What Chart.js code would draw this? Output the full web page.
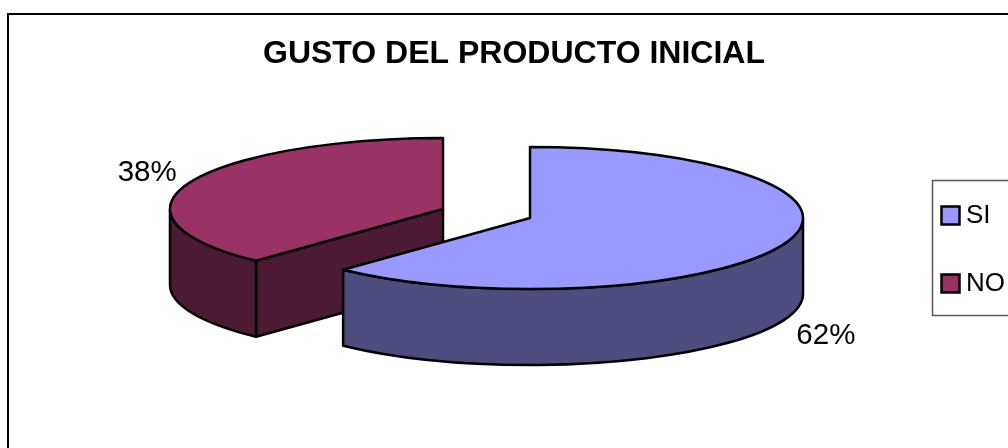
<!DOCTYPE html>
<html>
<head>
<meta charset="utf-8">
<title>Gusto del producto inicial</title>
<script src="https://cdn.jsdelivr.net/npm/chart.js@4"></script>
<style>
  html, body { margin: 0; padding: 0; background: #fff; overflow: hidden; }
  canvas { display: block; }
</style>
</head>
<body>
<canvas id="myChart" width="1008" height="448"></canvas>
<script>
const categories = ['SI', 'NO'];
const values = [62, 38];
const topColors = ['#9999FF', '#993366'];
const sideColors = ['#4D4D80', '#4D1A33'];

const TILT = 0.26;    // ellipse height / width of the pie top
const DEPTH = 76;     // wall height in px
const EXPLODE = 46.8; // how far each slice is pulled out
const FONT = '"Liberation Sans", Arial, sans-serif';

// arc that paints itself as a thick tilted slice
class Arc3d extends Chart.ArcElement {
    center() {
        const mid = (this.startAngle + this.endAngle) / 2;
        const off = this.options.offset || 0;
        return {
            x: this.x + Math.cos(mid) * off,
            y: this.y + Math.sin(mid) * off * TILT
        };
    }

    draw(ctx) {
        const { x, y } = this.center();
        const rx = this.outerRadius;
        const ry = rx * TILT;
        const start = this.startAngle;
        const end = this.endAngle;

        ctx.save();
        ctx.lineWidth = this.options.borderWidth;
        ctx.strokeStyle = this.options.borderColor;
        ctx.lineJoin = 'round';

        // flat side walls that face the viewer
        ctx.fillStyle = this.$side;
        [[start, start - Math.PI / 2], [end, end + Math.PI / 2]].forEach(function (e) {
            if (Math.sin(e[1]) > 0.001) {
                const ex = x + Math.cos(e[0]) * rx;
                const ey = y + Math.sin(e[0]) * ry;
                ctx.beginPath();
                ctx.moveTo(x, y);
                ctx.lineTo(ex, ey);
                ctx.lineTo(ex, ey + DEPTH);
                ctx.lineTo(x, y + DEPTH);
                ctx.closePath();
                ctx.fill();
                ctx.stroke();
            }
        });

        // curved wall, only the front half of the ellipse shows
        for (let k = 0; k <= 2; k += 2) {
            const a = Math.max(start, k * Math.PI);
            const b = Math.min(end, (k + 1) * Math.PI);
            if (b > a) {
                ctx.beginPath();
                ctx.ellipse(x, y, rx, ry, 0, a, b);
                ctx.lineTo(x + Math.cos(b) * rx, y + Math.sin(b) * ry + DEPTH);
                ctx.ellipse(x, y + DEPTH, rx, ry, 0, b, a, true);
                ctx.closePath();
                ctx.fill();
                ctx.stroke();
            }
        }

        // top face
        ctx.fillStyle = this.options.backgroundColor;
        ctx.beginPath();
        ctx.moveTo(x, y);
        ctx.ellipse(x, y, rx, ry, 0, start, end);
        ctx.closePath();
        ctx.fill();
        ctx.stroke();
        ctx.restore();
    }
}
Arc3d.id = 'arc3d';
Arc3d.defaults = Chart.ArcElement.defaults;

class Pie3dController extends Chart.PieController {
    // back slices first so the front ones cover them
    draw() {
        const ctx = this.chart.ctx;
        const arcs = this.getMeta().data;
        for (let i = arcs.length - 1; i >= 0; i--) {
            arcs[i].$side = sideColors[i];
            arcs[i].draw(ctx);
        }
    }
}
Pie3dController.id = 'pie3d';
Pie3dController.defaults = Object.assign({}, Chart.PieController.defaults, { dataElementType: 'arc3d' });
Pie3dController.overrides = Chart.DoughnutController.overrides;

Chart.register(Arc3d, Pie3dController);

const framePlugin = {
    id: 'frame',
    // fixed spots for the pie, the title and the legend
    afterLayout(chart) {
        chart.chartArea = { left: 41, right: 932, top: 72, bottom: 355, width: 891, height: 283 };
        chart.titleBlock.left = 0;
        chart.titleBlock.right = 1028;
        chart.titleBlock.width = 1028;
        const pad = chart.legend.options.labels.padding;
        chart.legend.left = 948 - pad;
        chart.legend.right = chart.legend.left + chart.legend.width;
        chart.legend.top = 202.5 - pad;
    },
    beforeDraw(chart) {
        const ctx = chart.ctx;
        ctx.save();
        ctx.fillStyle = '#fff';
        ctx.fillRect(0, 0, chart.width, chart.height);
        ctx.strokeStyle = '#000';
        ctx.lineWidth = 2;
        ctx.strokeRect(8, 14, 1100, 1000);
        ctx.strokeStyle = '#555';
        ctx.lineWidth = 1.5;
        ctx.strokeRect(932.5, 180.5, 200, 135);
        ctx.restore();
    },
    // percentage labels just outside each slice
    afterDatasetsDraw(chart) {
        const ctx = chart.ctx;
        const arcs = chart.getDatasetMeta(0).data;
        const total = values.reduce(function (a, b) { return a + b; }, 0);
        ctx.save();
        ctx.font = '29.5px ' + FONT;
        ctx.fillStyle = '#000';
        ctx.textAlign = 'center';
        ctx.textBaseline = 'middle';
        arcs.forEach(function (arc, i) {
            const mid = (arc.startAngle + arc.endAngle) / 2;
            const c = arc.center();
            const cos = Math.cos(mid);
            const sin = Math.sin(mid);
            const lx = c.x + cos * arc.outerRadius + Math.sign(cos) * 42;
            const ly = c.y + sin * arc.outerRadius * TILT + Math.sign(sin) * 13 + 2.5 + (sin > 0 ? DEPTH : 0);
            ctx.fillText(Math.round(values[i] / total * 100) + '%', lx, ly);
        });
        ctx.restore();
    }
};

const ctx = document.getElementById('myChart');
new Chart(ctx, {
    type: 'pie3d',
    data: {
        labels: categories,
        datasets: [{
            data: values,
            backgroundColor: topColors,
            borderColor: '#000',
            borderWidth: 2.5,
            offset: EXPLODE
        }]
    },
    plugins: [framePlugin],
    options: {
        responsive: false,
        animation: false,
        radius: 273,
        plugins: {
            tooltip: { enabled: false },
            title: {
                display: true,
                text: 'GUSTO DEL PRODUCTO INICIAL',
                color: '#000',
                font: { family: FONT, size: 32, weight: 'bold' },
                padding: { top: 35, bottom: 10 }
            },
            legend: {
                position: 'right',
                align: 'start',
                labels: {
                    color: '#000',
                    font: { family: FONT, size: 26 },
                    usePointStyle: true,
                    pointStyle: 'rect',
                    boxWidth: 5,
                    boxHeight: 18,
                    padding: 42
                }
            }
        }
    }
});
</script>
</body>
</html>
